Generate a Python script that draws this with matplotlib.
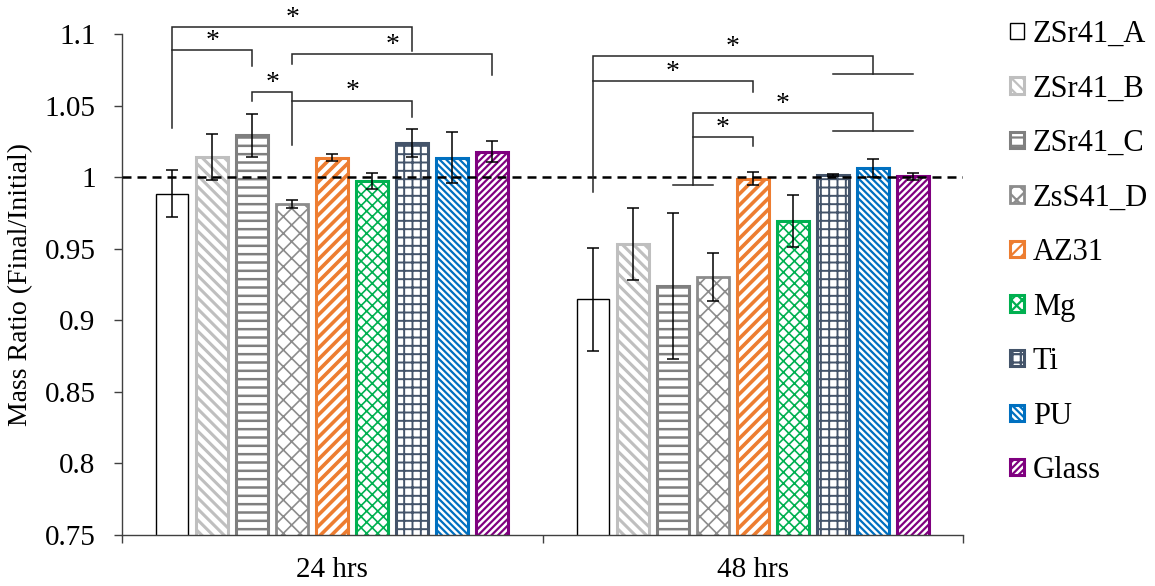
import matplotlib
matplotlib.use('Agg')
import matplotlib.pyplot as plt
import numpy as np

# ---------------- data ----------------
groups = ['24 hrs', '48 hrs']
materials = ['ZSr41_A', 'ZSr41_B', 'ZSr41_C', 'ZsS41_D', 'AZ31', 'Mg', 'Ti', 'PU', 'Glass']
mean_24 = [0.9885, 1.0141, 1.0292, 0.9813, 1.0136, 0.9973, 1.0240, 1.0136, 1.0178]
err_24 = [0.0165, 0.0160, 0.0150, 0.0030, 0.0025, 0.0053, 0.0098, 0.0176, 0.0072]
mean_48 = [0.9148, 0.9533, 0.9237, 0.9304, 0.9990, 0.9694, 1.0017, 1.0066, 1.0006]
err_48 = [0.0360, 0.0250, 0.0510, 0.0167, 0.0045, 0.0180, 0.0008, 0.0063, 0.0023]
reference_ratio = 1.0

# significance brackets: (group, left bar, right bar, bar-line y, left leg end y, right leg end y)
sig_brackets = [
    (0, 0, 6, 1.1048, 1.0344, 1.0880),
    (0, 0, 2, 1.0887, 1.0887, 1.0775),
    (0, 3, 8, 1.0862, 1.0787, 1.0717),
    (0, 2, 3, 1.0593, 1.0530, 1.0222),
    (0, 3, 6, 1.0535, 1.0535, 1.0421),
    (1, 0, 7, 1.0845, 0.9894, 1.0719),
    (1, 0, 4, 1.0670, 1.0670, 1.0593),
    (1, 2.5, 7, 1.0446, 0.9943, 1.0320),
    (1, 2.5, 4, 1.0281, 1.0281, 1.0215),
]
# group caps: (group, first bar, last bar, y)
sig_caps = [
    (1, 6, 8, 1.0719),
    (1, 6, 8, 1.0320),
    (1, 2, 3, 0.9943),
]

# ---------------- style ----------------
edge_colors = ['#000000', '#BFBFBF', '#7F7F7F', '#8C8C8C', '#ED7D31',
               '#00B050', '#44546A', '#0070C0', '#7F007F']
hatches = ['', '\\\\\\', '--', 'xx', '///', 'xxx', '++', '\\\\\\\\\\', '/////']
hatch_lw = [1.0, 2.2, 1.8, 1.2, 2.6, 1.2, 1.4, 1.6, 1.6]
edge_lw = [1.0, 2.2, 2.2, 2.0, 2.2, 2.2, 2.2, 2.2, 2.2]

plt.rcParams['font.family'] = ['Liberation Serif', 'DejaVu Serif']
plt.rcParams['hatch.linewidth'] = 1.8
FS = 21

fig = plt.figure(figsize=(11.55, 5.86), dpi=100)
ax = fig.add_axes([122/1155, 1-535/586, (963-122)/1155, (535-34)/586])

n = len(materials)
pitch = 40/420.5
width = 32/420.5
centers = np.arange(len(groups))
means = [mean_24, mean_48]
errs = [err_24, err_48]

def xpos(g, i):
    return centers[g] + (i - (n-1)/2) * pitch

handles = []
for i, m in enumerate(materials):
    xs = [xpos(g, i) for g in range(len(groups))]
    vals = [means[g][i] for g in range(len(groups))]
    ers = [errs[g][i] for g in range(len(groups))]
    plt.rcParams['hatch.linewidth'] = hatch_lw[i]
    b = ax.bar(xs, vals, width=width, facecolor='white', edgecolor=edge_colors[i],
               linewidth=edge_lw[i], hatch=hatches[i], label=m, zorder=2)
    for p in b.patches:
        if hasattr(p, 'set_hatch_linewidth'):
            p.set_hatch_linewidth(hatch_lw[i])
    ax.errorbar(xs, vals, yerr=ers, fmt='none', ecolor='black', elinewidth=1.1,
                capsize=4.3, capthick=1.1, zorder=4)
    handles.append(b)

ax.axhline(reference_ratio, color='black', lw=1.8, ls=(0, (3.6, 2.4)), zorder=3)

# brackets
for g, li, ri, yl, yle, yre in sig_brackets:
    xl, xr = xpos(g, li), xpos(g, ri)
    ax.plot([xl, xl, xr, xr], [yle, yl, yl, yre], color='#262626', lw=1.1,
            clip_on=False, zorder=5, solid_joinstyle='miter')
    ax.text((xl+xr)/2, yl + 0.0015, '*', ha='center', va='baseline',
            fontsize=20, clip_on=False, zorder=6)
for g, a, bb, y in sig_caps:
    ax.plot([xpos(g, a), xpos(g, bb)], [y, y], color='#262626', lw=1.1,
            clip_on=False, zorder=5)

# axes
ax.set_xlim(-0.5, len(groups) - 0.5)
ax.set_ylim(0.75, 1.1)
ax.set_yticks(np.arange(0.75, 1.1001, 0.05))
ax.set_yticklabels(['0.75', '0.8', '0.85', '0.9', '0.95', '1', '1.05', '1.1'])
ax.set_xticks(np.arange(-0.5, len(groups), 1.0))
ax.set_xticklabels([])
ax.set_xticks(centers, minor=True)
ax.set_xticklabels(groups, minor=True)
ax.tick_params(axis='x', which='major', length=6, width=1, color='#404040', direction='out')
ax.tick_params(axis='x', which='minor', length=0, pad=16, labelsize=FS)
ax.tick_params(axis='y', length=6, width=1, color='#404040', direction='out', pad=13, labelsize=FS)
for s in ['top', 'right']:
    ax.spines[s].set_visible(False)
for s in ['left', 'bottom']:
    ax.spines[s].set_color('#404040')
    ax.spines[s].set_linewidth(1)
ax.set_ylabel('Mass Ratio (Final/Initial)', fontsize=20, labelpad=8)

leg = fig.legend(handles=handles, labels=materials, loc='upper left',
                 bbox_to_anchor=(1010/1155, 1-20/586), frameon=False, fontsize=22,
                 handlelength=0.45, handleheight=0.45, handletextpad=0.3,
                 labelspacing=0.835, borderpad=0, borderaxespad=0)

fig.savefig('out.png', dpi=100)
